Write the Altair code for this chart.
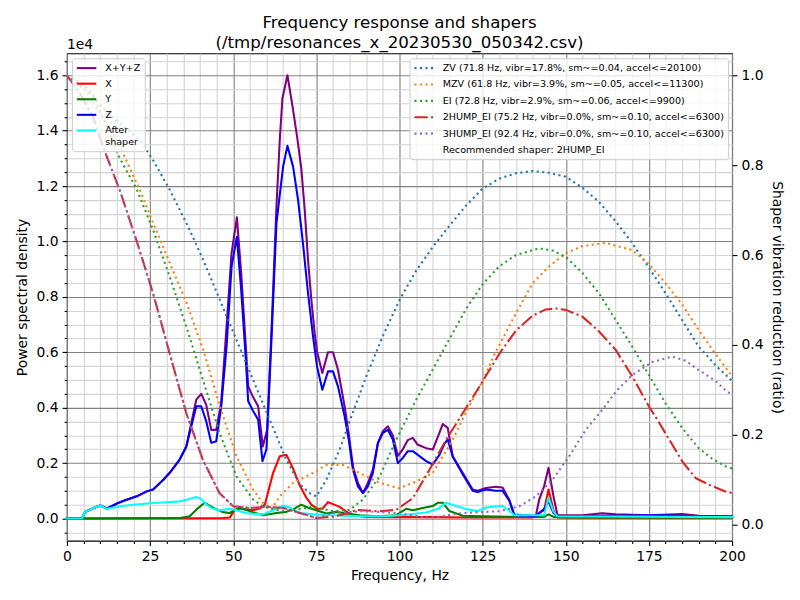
import altair as alt
import pandas as pd

TITLE = ["Frequency response and shapers", "(/tmp/resonances_x_20230530_050342.csv)"]

# ---------------- PSD series (values in units of 1e4) ----------------
psd_names = ["X+Y+Z", "X", "Y", "Z", "After shaper"]
psd_colors = ["purple", "red", "green", "blue", "cyan"]

f_xyz = [0, 4.5, 5.5, 8, 10, 12, 15, 17.5, 21, 24, 25.9, 29, 30.9, 33.9, 35.9, 37.4, 38.9, 40.4,
         41.9, 43.4, 44.9, 46.4, 48, 49.5, 51.1, 52.4, 53.8, 54.5, 55.9, 57.5, 58.9, 60.2, 61.8, 63,
         64, 64.8, 66.3, 67.8, 69.3, 70.5, 71.5, 72.5, 73.5, 74.5, 75.2, 76.8, 78.5, 80, 81.5, 83.5,
         84.8, 86, 87.5, 89, 90.5, 92, 93.5, 95, 96.5, 98, 99.5, 101, 102.5, 104, 105.5, 108, 110,
         112, 113, 114.5, 116, 119, 122, 123.5, 126, 129, 131, 133, 134.5, 141, 142, 143.5, 144.8,
         146.3, 147.5, 155, 161, 165, 175, 185, 190, 200]
v_xyz = [0, 0, 0.024, 0.038, 0.047, 0.036, 0.054, 0.066, 0.08, 0.098, 0.105, 0.14, 0.165, 0.213,
         0.26, 0.345, 0.429, 0.45, 0.41, 0.32, 0.32, 0.42, 0.693, 0.957, 1.087, 0.886, 0.62, 0.477,
         0.44, 0.405, 0.26, 0.32, 0.765, 1.125, 1.366, 1.516, 1.60, 1.49, 1.37, 1.26, 1.114, 0.933,
         0.789, 0.669, 0.603, 0.525, 0.60, 0.60, 0.537, 0.405, 0.30, 0.188, 0.128, 0.092, 0.128,
         0.177, 0.272, 0.315, 0.333, 0.30, 0.226, 0.25, 0.283, 0.291, 0.266, 0.254, 0.249, 0.309,
         0.341, 0.327, 0.224, 0.165, 0.105, 0.1, 0.11, 0.115, 0.112, 0.068, 0.014, 0.01, 0.068,
         0.117, 0.183, 0.08, 0.012, 0.012, 0.019, 0.015, 0.012, 0.016, 0.01, 0.008]

f_x = [0, 47, 49, 50.5, 52.4, 54, 56, 58, 59.5, 62, 64, 66, 68, 70, 72, 73.5, 75.2, 76.8, 78.5, 80,
       82, 84, 86, 90, 100, 110, 120, 130, 140, 143.5, 144.8, 146.3, 147.5, 160, 180, 200]
v_x = [0, 0.002, 0.004, 0.032, 0.036, 0.032, 0.03, 0.036, 0.05, 0.165, 0.225, 0.23, 0.18, 0.12,
       0.075, 0.05, 0.035, 0.035, 0.059, 0.052, 0.042, 0.025, 0.012, 0.006, 0.005, 0.005, 0.004,
       0.004, 0.004, 0.03, 0.105, 0.03, 0.004, 0.003, 0.003, 0.003]

f_y = [0, 34, 36.9, 38.9, 41.4, 43.9, 46.9, 48.9, 51.9, 55.9, 59, 63, 66, 68, 70.5, 72.5, 75, 78,
       81, 84, 88, 94, 99, 102, 104, 107, 110, 111.6, 113, 115, 119, 125, 135, 143.5, 144.8,
       146.3, 150, 200]
v_y = [0, 0.002, 0.008, 0.032, 0.057, 0.039, 0.023, 0.02, 0.039, 0.023, 0.012, 0.02, 0.024, 0.033,
       0.05, 0.039, 0.03, 0.018, 0.024, 0.018, 0.012, 0.008, 0.012, 0.035, 0.03, 0.038, 0.045,
       0.057, 0.057, 0.027, 0.01, 0.008, 0.006, 0.006, 0.015, 0.006, 0.004, 0.003]

f_z = [0, 4.5, 5.5, 8, 10, 12, 15, 17.5, 21, 24, 25.9, 29, 30.9, 33.9, 35.9, 37.4, 38.9, 40.4,
       41.9, 43.4, 44.9, 46.4, 48, 49.5, 51.1, 52.4, 53.8, 54.5, 55.9, 57.5, 58.8, 60, 61.5, 63,
       65, 66.3, 68, 69.5, 71, 72.5, 74, 75.2, 76.8, 78.5, 80, 81.5, 83.5, 84.8, 86, 87.5, 89,
       90.5, 92, 93.5, 95, 96.5, 98, 99.5, 101, 102.5, 104, 106, 108, 110, 112, 113.5, 114.5, 116,
       119, 122, 123.5, 126, 129, 131, 133, 134.5, 141, 142, 143.5, 144.8, 146.3, 147.5, 160, 180,
       190, 200]
v_z = [0, 0, 0.024, 0.038, 0.047, 0.036, 0.054, 0.066, 0.08, 0.098, 0.105, 0.14, 0.165, 0.213,
       0.26, 0.333, 0.405, 0.405, 0.35, 0.273, 0.279, 0.405, 0.621, 0.909, 1.017, 0.825, 0.573,
       0.423, 0.39, 0.357, 0.207, 0.25, 0.645, 1.066, 1.27, 1.345, 1.27, 1.15, 0.99, 0.813, 0.657,
       0.549, 0.465, 0.531, 0.531, 0.477, 0.369, 0.28, 0.177, 0.116, 0.092, 0.116, 0.165, 0.272,
       0.309, 0.32, 0.285, 0.2, 0.219, 0.243, 0.243, 0.225, 0.207, 0.195, 0.23, 0.27, 0.285, 0.224,
       0.16, 0.1, 0.096, 0.105, 0.1, 0.1, 0.065, 0.012, 0.008, 0.02, 0.035, 0.062, 0.02, 0.008,
       0.01, 0.012, 0.008, 0.006]

f_after = [0, 4.5, 5.5, 8, 10, 12, 15.9, 20, 25.9, 30, 33.9, 35.9, 38.9, 40.5, 42, 43.9, 46, 49,
           51, 53.9, 56, 59, 62, 65, 67, 70, 74, 80, 88, 96, 100, 104, 108, 111.6, 114, 117, 120.5,
           123.5, 126, 131, 133, 134.5, 143.5, 144.8, 146.3, 147.5, 200]
v_after = [0, 0, 0.024, 0.038, 0.047, 0.035, 0.044, 0.05, 0.056, 0.059, 0.062, 0.068, 0.078,
           0.069, 0.05, 0.035, 0.03, 0.035, 0.03, 0.02, 0.017, 0.015, 0.03, 0.046, 0.04, 0.02,
           0.015, 0.012, 0.008, 0.008, 0.012, 0.016, 0.022, 0.035, 0.057, 0.045, 0.033, 0.027,
           0.04, 0.046, 0.028, 0.012, 0.012, 0.075, 0.025, 0.008, 0.005]

# ---------------- Shaper vibration reduction curves ----------------
shaper_names = ["ZV (71.8 Hz, vibr=17.8%, sm~=0.04, accel<=20100)",
                "MZV (61.8 Hz, vibr=3.9%, sm~=0.05, accel<=11300)",
                "EI (72.8 Hz, vibr=2.9%, sm~=0.06, accel<=9900)",
                "2HUMP_EI (75.2 Hz, vibr=0.0%, sm~=0.10, accel<=6300)",
                "3HUMP_EI (92.4 Hz, vibr=0.0%, sm~=0.10, accel<=6300)",
                "Recommended shaper: 2HUMP_EI"]
shaper_colors = ["#1f77b4", "#ff7f0e", "#2ca02c", "#d62728", "#9467bd", "transparent"]
shaper_dashes = [[2.08, 3.44], [2.08, 3.44], [2.08, 3.44], [13.3, 3.3, 2.1, 3.3], [2.08, 3.44], [1, 0]]

f_zv = [0, 6.9, 12.9, 18, 22, 26, 31, 36, 41, 46, 51, 56, 61, 66, 70, 73, 75, 78, 82, 85, 90, 95,
        100, 105, 110, 115, 120, 125, 130, 135, 140, 145, 150, 155, 160, 165, 170, 175, 180, 185,
        190, 195, 200]
r_zv = [1.0, 0.959, 0.912, 0.88, 0.856, 0.81, 0.744, 0.67, 0.589, 0.50, 0.411, 0.322, 0.233,
        0.144, 0.09, 0.07, 0.063, 0.10, 0.167, 0.23, 0.33, 0.42, 0.50, 0.565, 0.618, 0.665, 0.71,
        0.748, 0.77, 0.782, 0.787, 0.783, 0.774, 0.75, 0.718, 0.675, 0.626, 0.572, 0.515, 0.455,
        0.396, 0.355, 0.32]

f_mzv = [0, 4, 10, 16, 22, 26, 31, 36, 41, 46, 51, 56, 59, 61.5, 64, 68, 74, 78, 83, 88, 94, 100,
         105, 110, 113, 116, 120, 125, 128.5, 135, 140, 145, 150, 155, 162, 170, 175, 180, 185,
         190, 195, 200]
r_mzv = [1.0, 0.982, 0.915, 0.84, 0.744, 0.67, 0.581, 0.493, 0.389, 0.263, 0.152, 0.078, 0.048,
         0.035, 0.063, 0.093, 0.115, 0.133, 0.133, 0.115, 0.093, 0.081, 0.096, 0.115, 0.152,
         0.189, 0.25, 0.32, 0.378, 0.47, 0.537, 0.575, 0.604, 0.62, 0.627, 0.611, 0.58, 0.537,
         0.49, 0.433, 0.38, 0.33]

f_ei = [0, 5, 8, 10, 12.9, 15.9, 20.9, 25.9, 30.9, 35.9, 40.9, 45.9, 51, 56, 59, 62, 65, 70, 74,
        80, 85, 89, 94, 99, 105, 111, 116.5, 120, 125, 130, 135, 142, 146, 150, 155, 160, 170, 180,
        185, 190, 194, 198, 200]
r_ei = [1.0, 0.98, 0.955, 0.92, 0.87, 0.815, 0.748, 0.656, 0.552, 0.441, 0.322, 0.204, 0.107,
        0.056, 0.04, 0.035, 0.03, 0.035, 0.04, 0.03, 0.033, 0.056, 0.107, 0.189, 0.278, 0.359,
        0.433, 0.48, 0.535, 0.575, 0.60, 0.615, 0.61, 0.596, 0.56, 0.515, 0.396, 0.27, 0.215,
        0.17, 0.147, 0.13, 0.125]

f_2hump = [0, 3.9, 7.9, 10.9, 15.9, 20.9, 25.9, 30.9, 35.9, 40.9, 45.9, 50, 55, 60, 65, 70, 75, 80,
           85, 87, 94, 99, 104, 109, 114, 119, 124, 130, 135, 140, 144, 147, 150, 155, 160, 165, 170,
           175, 177.6, 185, 189, 193, 198, 200]
r_2hump = [1.0, 0.96, 0.907, 0.84, 0.744, 0.633, 0.515, 0.381, 0.248, 0.144, 0.07, 0.041, 0.037,
           0.04, 0.037, 0.026, 0.015, 0.018, 0.026, 0.033, 0.03, 0.033, 0.059, 0.122, 0.189, 0.248,
           0.307, 0.38, 0.432, 0.465, 0.479, 0.481, 0.478, 0.463, 0.43, 0.389, 0.33, 0.263, 0.233,
           0.141, 0.104, 0.089, 0.074, 0.07]

f_3hump = [0, 3.9, 7.9, 10.9, 15.9, 20.9, 25.9, 30.9, 35.9, 40.9, 45.9, 50, 55, 60, 65, 70, 75, 80,
           89, 99, 109, 119, 130, 136, 141, 146, 151, 156, 161, 165.5, 170, 176, 182, 186, 190, 195,
           198.5, 200]
r_3hump = [1.0, 0.96, 0.907, 0.84, 0.744, 0.633, 0.515, 0.381, 0.248, 0.144, 0.07, 0.041, 0.037,
           0.04, 0.037, 0.026, 0.015, 0.026, 0.03, 0.026, 0.015, 0.026, 0.03, 0.041, 0.063, 0.1,
           0.152, 0.211, 0.256, 0.3, 0.333, 0.362, 0.374, 0.365, 0.344, 0.32, 0.296, 0.29]

# ---------------- ticks ----------------
x_ticks = list(range(0, 201, 5))
yl_ticks = [round(i * 0.05, 2) for i in range(-1, 34)]
yr_ticks = [0.0, 0.2, 0.4, 0.6, 0.8, 1.0]

FONT = "DejaVu Sans"
LW = 2.08

x_scale = alt.Scale(domain=[0, 200], nice=False, zero=False)
yl_scale = alt.Scale(domain=[-0.080, 1.679], nice=False, zero=False)
yr_scale = alt.Scale(domain=[-0.0356, 1.0489], nice=False, zero=False)

major_x = "datum.value % 25 === 0"
major_y = "abs(datum.value / 0.2 - round(datum.value / 0.2)) < 1e-6"

x_axis = alt.Axis(values=x_ticks, format="d",
                  labelExpr=f"{major_x} ? datum.label : ''",
                  tickSize={"condition": {"test": major_x, "value": 4.9}, "value": 2.8},
                  grid=True,
                  gridColor={"condition": {"test": major_x, "value": "#808080"}, "value": "#d3d3d3"},
                  gridWidth=1.1, labelPadding=4, titlePadding=5)
yl_axis = alt.Axis(values=yl_ticks, orient="left",
                   labelExpr=f"{major_y} ? format(datum.value, '.1f') : ''",
                   tickSize={"condition": {"test": major_y, "value": 4.9}, "value": 2.8},
                   grid=True,
                   gridColor={"condition": {"test": major_y, "value": "#808080"}, "value": "#d3d3d3"},
                   gridWidth=1.1, labelPadding=4, titlePadding=6)
yr_axis = alt.Axis(values=yr_ticks, orient="right", format=".1f", grid=False,
                   tickSize=4.9, labelPadding=4, titlePadding=6)

x_enc = alt.X("f:Q", scale=x_scale, axis=x_axis, title="Frequency, Hz")

legend_common = dict(title=None, offset=4.5, padding=3.8,
                     fillColor="rgba(255,255,255,0.8)", strokeColor="#cccccc",
                     cornerRadius=3,
                     labelFont=FONT, labelFontSize=9.6, labelColor="black", labelLimit=500,
                     symbolType="M-1,0H3", symbolSize=95, symbolStrokeWidth=LW,
                     symbolFillColor="transparent", labelOffset=17.5)

psd_legend = alt.Legend(orient="top-left", rowPadding=4.6,
                        labelExpr="datum.label == 'After shaper' ? ['After', 'shaper'] : datum.label",
                        **legend_common)
shaper_legend = alt.Legend(orient="top-right", rowPadding=5.4, **legend_common)

psd_color = alt.Color("series:N", scale=alt.Scale(domain=psd_names, range=psd_colors),
                      legend=psd_legend)

psd_data = [(f_xyz, v_xyz), (f_x, v_x), (f_y, v_y), (f_z, v_z), (f_after, v_after)]
psd_layers = []
for name, (fs, vs) in zip(psd_names, psd_data):
    df = pd.DataFrame({"f": fs, "v": vs, "series": name})
    psd_layers.append(
        alt.Chart(df).mark_line(strokeWidth=LW, strokeJoin="round", strokeCap="square").encode(
            x=x_enc,
            y=alt.Y("v:Q", scale=yl_scale, axis=yl_axis, title="Power spectral density"),
            color=psd_color,
        )
    )

offset_text = alt.Chart(pd.DataFrame({"t": ["1e4"]})).mark_text(
    font=FONT, fontSize=13.9, align="left", baseline="alphabetic", color="black"
).encode(text="t:N", x=alt.value(0), y=alt.value(-4))

left = alt.layer(*psd_layers, offset_text)

shaper_data = [(f_zv, r_zv), (f_mzv, r_mzv), (f_ei, r_ei), (f_2hump, r_2hump), (f_3hump, r_3hump)]
sh_color = alt.Color("shaper:N", scale=alt.Scale(domain=shaper_names, range=shaper_colors),
                     legend=shaper_legend)
sh_dash = alt.StrokeDash("shaper:N", scale=alt.Scale(domain=shaper_names, range=shaper_dashes),
                         legend=shaper_legend)
shaper_layers = []
for name, (fs, rs) in zip(shaper_names, shaper_data):
    df = pd.DataFrame({"f": fs, "r": rs, "shaper": name})
    shaper_layers.append(
        alt.Chart(df).mark_line(strokeWidth=LW, strokeJoin="round", strokeCap="butt").encode(
            x=x_enc,
            y=alt.Y("r:Q", scale=yr_scale, axis=yr_axis, title="Shaper vibration reduction (ratio)"),
            color=sh_color,
            strokeDash=sh_dash,
        )
    )
right = alt.layer(*shaper_layers)

chart = alt.layer(left, right).resolve_scale(
    y="independent", color="independent", strokeDash="independent"
).properties(
    width=666, height=488,
    padding={"left": 59, "top": 45, "right": 60, "bottom": 50},
    autosize="none",
    title=alt.TitleParams(text=TITLE, font=FONT, fontSize=16.67, fontWeight="normal",
                          color="black", anchor="middle", offset=-13, lineHeight=19.5),
).configure_view(
    stroke="black", strokeWidth=1.1
).configure_axis(
    labelFont=FONT, labelFontSize=13.9, labelColor="black",
    titleFont=FONT, titleFontSize=13.9, titleFontWeight="normal", titleColor="black",
    tickColor="black", tickWidth=1.1, domain=False, labelFlush=False, labelOverlap=False,
)

chart.save("out.html", embed_options={"renderer": "svg", "actions": False})
